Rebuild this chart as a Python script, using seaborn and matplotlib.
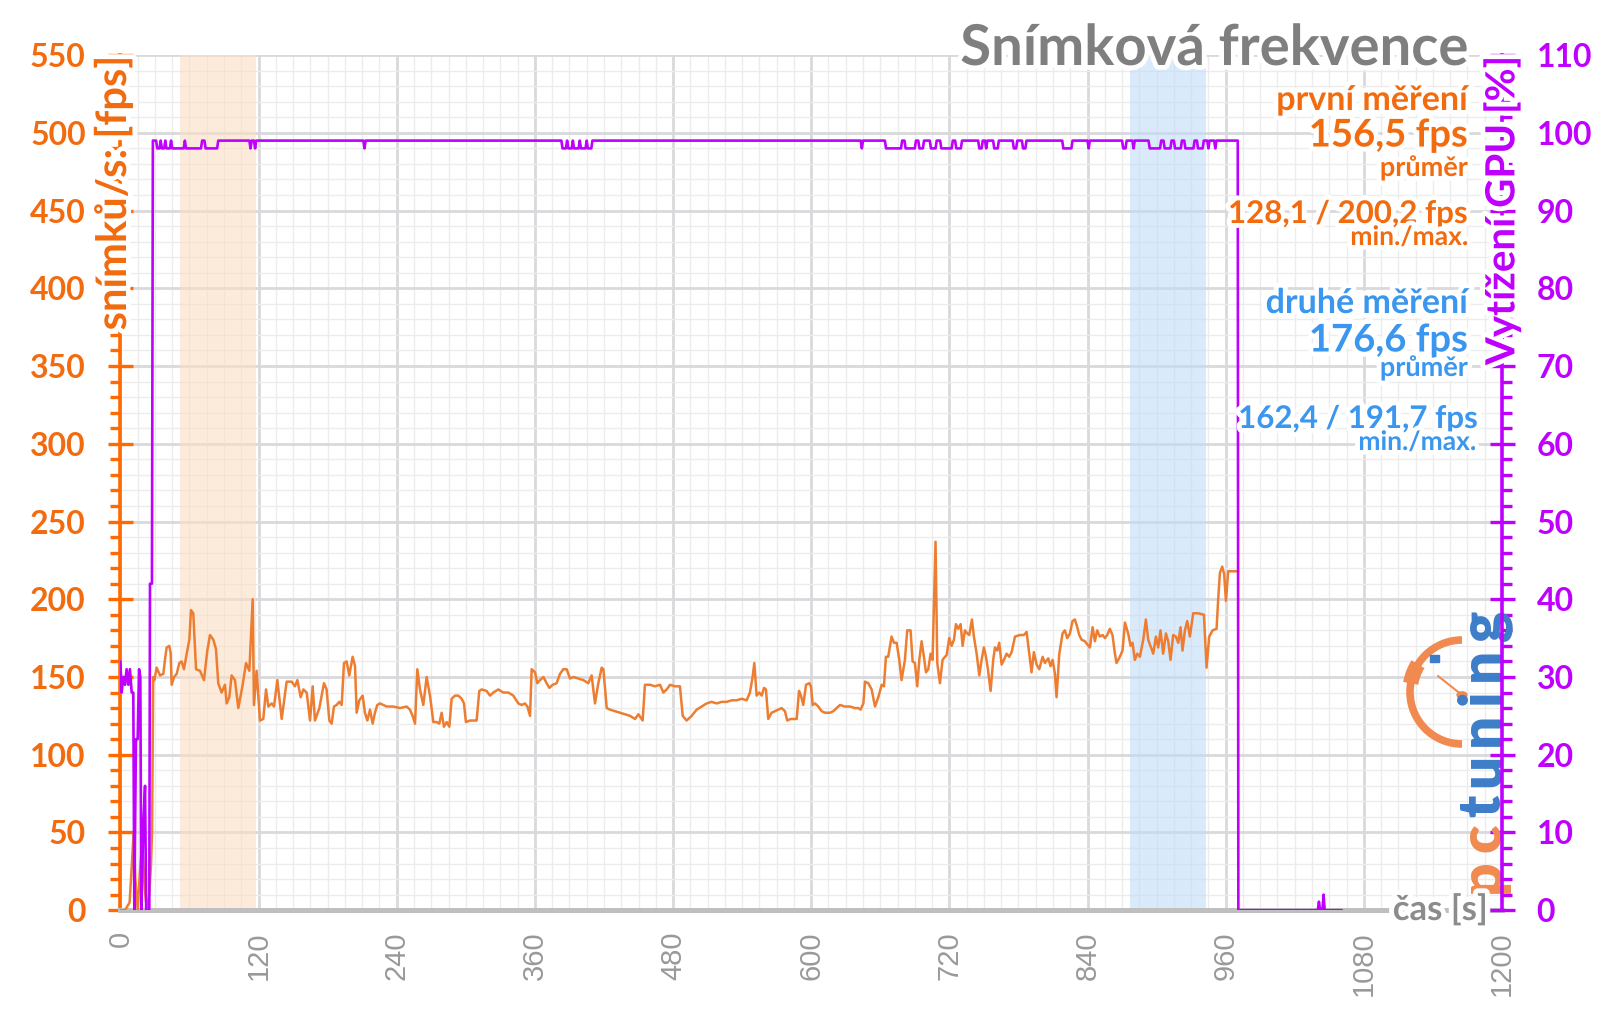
import matplotlib
matplotlib.use("Agg")
import matplotlib.pyplot as plt
import matplotlib.patheffects as pe
from matplotlib.patches import Arc, Circle, Rectangle
from matplotlib.lines import Line2D
from matplotlib.ticker import MultipleLocator
import seaborn as sns

# ---------------- data ----------------
fps_time = [
    0, 4, 8, 10, 11.5, 13, 15, 17, 19, 21,
    23, 25, 26.5, 27.5, 28.5, 29.5,
    31.5, 34.4, 37.3, 38.7, 40.2, 42.5, 43.7, 44.5, 46.6, 48.9,
    51.2, 53.2, 55.2, 57.6, 59.9, 61.3, 63.3, 65.7, 69.1, 72.6,
    75.5, 77.8, 80.7, 83.0, 85.0, 87.9, 90.8, 92.3, 94.6, 96.6,
    99.5, 102.4, 106.2, 109.1, 112.0, 114.9, 116.0, 118.3, 121.2, 124.1,
    126.5, 128.5, 131.4, 133.4, 136.3, 140.1, 144.4, 148.8, 151.6, 153.7,
    156.6, 158.9, 161.8, 164.7, 167.0, 169.0, 172.8,
    176.8, 179.1, 181.5, 183.5, 185.5, 187.8, 190.1, 192.2, 194.2, 196.5,
    198.8, 201.7, 203.8, 205.2, 207.5, 210.4, 212.4, 214.5, 216.8, 219.1,
    221.1, 223.1, 225.5, 231.3, 237.0, 242.8, 248.6, 251.5, 253.8, 255.9,
    257.9, 260.2, 263.1, 266.0, 268.9, 271.8, 274.7, 277.0, 279.0, 281.0,
    283.4, 285.7, 287.7, 290.6, 293.5, 296.4, 298.4, 300.1, 303.6, 309.4,
    311.7, 313.8, 318.1, 321.0, 323.9, 328.2, 332.6, 336.9, 341.3,
    345.6, 348.5, 351.4, 353.5, 355.8, 357.2, 360.1, 362.1, 364.5, 367.4,
    370.2, 372.6, 375.5, 378.9, 381.8, 384.7, 387.6, 390.5, 393.4, 397.7,
    402.1, 406.4, 409.3, 412.2, 415.1, 418.0, 419.5, 422.4, 425.3, 429.6,
    433.9, 438.3, 442.6, 447.0, 449.9, 453.6, 455.6, 460.0, 464.3, 468.7,
    471.6, 474.5, 477.4, 481.7, 486.0, 488.4, 491.8, 496.2, 500.5, 504.9,
    509.2, 513.5, 517.9, 522.2, 526.6, 530.9, 535.2, 539.6, 543.9, 546.8,
    549.1, 550.6, 552.6, 554.9, 557.0, 559.0, 560.7, 562.7, 565.6, 568.5,
    571.4, 574.3, 577.2, 579.2, 582.1, 585.0, 587.4, 589.4, 591.1, 593.1,
    595.5, 598.4, 599.8, 601.3, 603.3, 606.2, 609.1, 612.0, 616.3, 619.2,
    622.1, 625.0, 629.3, 633.7, 638.0, 640.9, 642.9, 645.3, 646.7, 649.6,
    652.5, 655.4, 658.3, 661.2, 663.2,
    664.9, 666.9, 669.8, 671.9, 674.2, 676.5, 678.5, 681.4, 683.4, 686.3,
    688.1, 690.1, 692.1, 693.9, 695.9, 697.9, 699.7, 701.7, 703.7, 705.4,
    708.0, 709.5, 711.8, 714.1, 716.2, 717.6, 719.9, 721.9, 724.0, 725.7,
    727.7, 729.8, 731.5, 733.5, 735.6, 737.3, 739.6, 741.3, 743.7, 746.0,
    748.0, 750.0, 751.8, 753.5, 755.8, 758.1, 759.6, 761.6, 763.3, 765.4,
    767.4, 769.7, 772.0, 774.1, 777.0, 781.3, 784.8, 787.1, 789.4, 791.4,
    793.4, 795.8, 798.1, 801.0, 803.0, 805.9, 807.9, 809.7, 811.7, 813.1,
    815.5,
    818.3, 820.3, 822.4, 824.7, 827.0, 829.0, 831.1, 832.8, 834.8, 837.7,
    839.7, 842.1, 844.4, 846.4, 848.4, 850.7, 853.1, 855.1, 857.1, 859.4,
    861.7, 863.8, 865.2, 868.1, 870.4, 872.5, 875.3, 877.4, 879.1, 881.1,
    883.2, 885.5, 888.4, 890.7, 892.7, 894.7, 897.1, 899.4, 901.4, 903.4,
    905.7, 908.1, 910.1, 912.1, 914.4, 916.7, 918.8, 920.8, 922.5, 924.6,
    926.6, 928.9, 931.8, 936.1, 941.1, 943.4, 945.7, 948.6, 952.1, 953.5,
    955.0, 957.0, 958.7, 960.2, 962.2, 965.1, 970.9,
]
fps_value = [
    0, 0, 5, 30, 50, 20, 0, 25, 45, 15,
    0, 10, 28, 50, 150, 148,
    156, 151, 152, 161, 169, 170, 165, 145, 150, 152,
    159, 160, 155, 165, 174, 193, 191, 155, 154, 148,
    167, 177, 174, 168, 146, 140, 145, 133, 137, 151,
    148, 130, 145, 159, 154, 200, 132, 154, 122, 123,
    142, 131, 133, 131, 148, 123, 147, 147, 144, 148,
    137, 142, 140, 122, 144, 122, 130,
    146, 142, 122, 120, 131, 132, 134, 132, 159, 160,
    151, 163, 157, 127, 135, 138, 127, 122, 129, 120,
    127, 132, 133, 131, 131, 130, 131, 129, 125, 120,
    155, 142, 132, 150, 138, 121, 121, 120, 127, 118,
    121, 118, 136, 138, 138, 136, 133, 121, 122, 122,
    141, 142, 141, 138, 140, 142, 140, 140, 138,
    133, 132, 133, 131, 125, 155, 153, 146, 148, 150,
    146, 143, 145, 146, 152, 155, 155, 149, 150, 149,
    148, 146, 151, 133, 146, 156, 155, 130, 129, 128,
    127, 126, 125, 123, 126, 122, 145, 145, 144, 145,
    140, 142, 145, 144, 144, 125, 122, 125, 129, 131,
    133, 134, 133, 134, 134, 135, 135, 136, 135, 140,
    150, 159, 138, 140, 138, 143, 142, 123, 127, 128,
    129, 130, 128, 122, 123, 123, 123, 141, 138, 132,
    145, 146, 144, 132, 133, 131, 128, 127, 127, 128,
    130, 132, 131, 131, 130, 130, 129, 133, 147, 146,
    142, 131, 137, 145, 144,
    163, 163, 176, 172, 172, 161, 148, 161, 180, 180,
    160, 159, 144, 161, 173, 163, 153, 155, 165, 161,
    237, 159, 146, 161, 163, 164, 175, 170, 174, 184,
    181, 184, 170, 180, 178, 177, 187, 176, 165, 151,
    161, 169, 163, 155, 141, 161, 169, 167, 172, 158,
    161, 165, 163, 166, 176, 177, 177, 179, 165, 153,
    166, 158, 155, 163, 159, 162, 157, 161, 152, 137,
    165,
    178, 180, 175, 178, 186, 187, 182, 177, 174, 173,
    171, 169, 182, 173, 180, 176, 177, 175, 177, 181,
    177, 165, 159, 163, 167, 185, 178, 170, 172, 161,
    165, 163, 174, 187, 174, 170, 165, 176, 169, 180,
    165, 178, 173, 161, 177, 176, 172, 182, 167, 180,
    186, 176, 191, 191, 190, 156, 176, 180, 181, 200,
    217, 221, 216, 199, 218, 218, 218,
]

gpu_time = [
    0, 1.1, 2.5, 4.0, 5.4, 6.9, 8.3, 9.8, 11.2, 12.1,
    13.5, 15.0, 16.2, 17.3, 18.2, 19.9, 21.4, 22.4, 25.1, 25.7,
    27.4, 28.2,
    31, 32, 34, 35, 36, 38, 39, 40, 43, 44,
    45, 55, 56, 57, 70, 71, 73, 74, 84, 85,
    112, 113, 114, 116, 117, 118, 211, 212, 213, 383,
    384, 387, 388, 389, 392, 393, 394, 398, 399, 400,
    404, 405, 406, 409, 410, 643, 644, 645, 664, 665,
    678, 679, 681, 682, 690, 691, 693, 694, 697, 698,
    703, 704, 708, 709, 712, 713, 722, 723, 725, 726,
    730, 731, 745, 746, 748, 749, 751, 752, 753, 758,
    759, 762, 763, 775, 776, 778, 779, 783, 784, 786,
    787, 818, 819, 826, 827, 840, 841, 842, 870, 871,
    873, 874, 879, 880, 881, 893, 894, 903, 904, 906,
    907, 912, 913, 915, 916, 921, 922, 924, 925, 932,
    933, 935, 936, 940, 941, 944, 945, 946, 950, 951,
    952, 970.5, 971, 1040, 1041, 1042, 1044, 1045, 1046, 1061,
]
gpu_value = [
    32, 28, 30, 29, 31, 29, 31, 28, 28, 0,
    22, 22, 31, 30, 0, 11, 16, 0, 0, 42,
    42, 99,
    99, 98, 98, 99, 98, 98, 99, 98, 98, 99,
    98, 98, 99, 98, 98, 99, 99, 98, 98, 99,
    99, 98, 99, 99, 98, 99, 99, 98, 99, 99,
    98, 98, 99, 98, 98, 99, 98, 98, 99, 98,
    98, 99, 98, 98, 99, 99, 98, 99, 99, 98,
    98, 99, 99, 98, 98, 99, 99, 98, 98, 99,
    99, 98, 98, 99, 99, 98, 98, 99, 99, 98,
    98, 99, 99, 98, 98, 99, 99, 98, 99, 99,
    98, 98, 99, 99, 98, 98, 99, 99, 98, 98,
    99, 99, 98, 98, 99, 99, 98, 99, 99, 98,
    98, 99, 99, 98, 99, 99, 98, 98, 99, 99,
    98, 98, 99, 99, 98, 98, 99, 99, 98, 98,
    99, 99, 98, 98, 99, 99, 98, 99, 99, 98,
    99, 99, 0, 0, 1.1, 0, 0, 2, 0, 0,
]

time_ticks = [0, 120, 240, 360, 480, 600, 720, 840, 960, 1080, 1200]
fps_ticks = [0, 50, 100, 150, 200, 250, 300, 350, 400, 450, 500, 550]
gpu_ticks = [0, 10, 20, 30, 40, 50, 60, 70, 80, 90, 100, 110]
band_first = (52, 118)
band_second = (877, 943)

title_text = "Snímková frekvence"
first_lines = ["první měření", "156,5 fps", "průměr", "128,1 / 200,2 fps", "min./max."]
second_lines = ["druhé měření", "176,6 fps", "průměr", "162,4 / 191,7 fps", "min./max."]
ylabel_left = "snímků/s: [fps]"
ylabel_right = "Vytížení GPU [%]"
xlabel_text = "čas [s]"

# ---------------- style ----------------
sns.set_theme(style="white")
plt.rcParams['font.family'] = ['Lato', 'DejaVu Sans']

ORANGE_TXT = '#F26B0F'
ORANGE_AX = '#FF6A00'
ORANGE_LINE = '#ED7D31'
PURPLE = '#BF00FF'
BLUE_TXT = '#3A96EE'
GRAY_TITLE = '#7F7F7F'
GRID_MAJ = '#D9D9DD'
GRID_MIN = '#ECECEC'

W, H = 1600, 1009
fig = plt.figure(figsize=(16, 10.09), dpi=100)
fig.patch.set_facecolor('white')

x0, x1 = 120.4, 1502.0
y0, y1 = 910.2, 55.1
ax = fig.add_axes([x0 / W, 1 - y0 / H, (x1 - x0) / W, (y0 - y1) / H])
ax.set_facecolor('white')

ax.set_xlim(0, 1200)
ax.set_ylim(0, 550)
ax.xaxis.set_minor_locator(MultipleLocator(15))
ax.yaxis.set_minor_locator(MultipleLocator(10))
ax.grid(which='minor', color=GRID_MIN, lw=1.0)
ax.grid(which='major', color=GRID_MAJ, lw=2.0)
ax.set_axisbelow(True)

ax.axvspan(*band_first, color='#FBDEC3', alpha=0.6, lw=0, zorder=1.5)
ax.axvspan(*band_second, color='#C1DCF9', alpha=0.6, lw=0, zorder=1.5)

sns.lineplot(x=fps_time, y=fps_value, ax=ax, color=ORANGE_LINE, lw=1.8,
             estimator=None, sort=False, zorder=3)

ax2 = ax.twinx()
sns.lineplot(x=gpu_time, y=gpu_value, ax=ax2, color=PURPLE, lw=1.9,
             estimator=None, sort=False, zorder=3)
ax2.set_ylim(0, 110)
ax2.set_xlim(0, 1200)
ax.set_xlim(0, 1200)
ax.set_ylim(0, 550)
ax.set_xlabel('')
ax.set_ylabel('')
ax2.set_ylabel('')
ax2.set_xlabel('')

# spines
ax.spines['top'].set_visible(False)
ax.spines['right'].set_visible(False)
ax.spines['left'].set_color(ORANGE_AX)
ax.spines['left'].set_linewidth(2.6)
ax.spines['bottom'].set_color('#BFBFBF')
ax.spines['bottom'].set_linewidth(3.6)
for s in ['top', 'left', 'bottom']:
    ax2.spines[s].set_visible(False)
ax2.spines['right'].set_color(PURPLE)
ax2.spines['right'].set_linewidth(2.6)

# ticks
ax.set_yticks(fps_ticks, labels=[str(v) for v in fps_ticks],
              fontsize=23, fontweight='bold', color=ORANGE_TXT)
ax.tick_params(axis='y', which='major', direction='inout', length=18, width=2.4,
               color=ORANGE_AX, pad=16)
ax.tick_params(axis='y', which='minor', direction='out', length=7, width=2.4,
               color=ORANGE_AX)
ax.set_xticks(time_ticks, labels=[str(v) for v in time_ticks],
              fontsize=21, color='#999999', rotation=90,
              fontfamily='Liberation Sans')
ax.tick_params(axis='x', which='major', direction='out', length=6, width=3,
               color='#BFBFBF', pad=9)
ax.tick_params(axis='x', which='minor', length=0)

ax2.yaxis.set_minor_locator(MultipleLocator(2))
ax2.set_yticks(gpu_ticks, labels=[str(v) for v in gpu_ticks],
               fontsize=23, fontweight='bold', color=PURPLE)
ax2.tick_params(axis='y', which='major', direction='inout', length=18, width=2.4,
                color=PURPLE, pad=16)
ax2.tick_params(axis='y', which='minor', direction='out', length=7, width=2.4,
                color=PURPLE)

stroke = [pe.withStroke(linewidth=7, foreground='white')]


def ftxt(x, y, s, **kw):
    return fig.text(x / W, 1 - y / H, s, **kw)


# title and annotations
ftxt(1468, 65, title_text, ha='right', va='baseline', fontsize=40.5,
     fontweight='bold', color=GRAY_TITLE, path_effects=stroke)

first_pos = [(1468, 110, 24.5), (1468, 146.5, 27.5), (1468, 176, 19.5),
             (1468, 223, 22.5), (1468, 245, 19)]
for s, (x, y, fs) in zip(first_lines, first_pos):
    ftxt(x, y, s, ha='right', va='baseline', fontsize=fs, fontweight='bold',
         color=ORANGE_TXT, path_effects=stroke)

second_pos = [(1468, 313, 24.5), (1468, 351.5, 27.5), (1468, 376, 19.5),
              (1478, 428, 22.5), (1476, 450, 19)]
for s, (x, y, fs) in zip(second_lines, second_pos):
    ftxt(x, y, s, ha='right', va='baseline', fontsize=fs, fontweight='bold',
         color=BLUE_TXT, path_effects=stroke)

# axis labels
ftxt(113, 56, ylabel_left, rotation=90, ha='center', va='top', fontsize=30,
     fontweight='bold', color=ORANGE_TXT, path_effects=stroke)
ftxt(1502, 56, ylabel_right, rotation=90, ha='center', va='top', fontsize=29,
     fontweight='bold', color=PURPLE, path_effects=stroke)
ftxt(1488, 920, xlabel_text, ha='right', va='baseline', fontsize=25,
     fontweight='bold', color='#8C8C8C', path_effects=stroke)

# pctuning logo (drawn under the right spine)
logo_orange = '#F08A50'
logo_blue = '#3D7DC8'
logo_letters = [('p', 876, logo_orange), ('c', 837.5, logo_orange),
                ('t', 805.5, logo_blue), ('u', 770.5, logo_blue),
                ('n', 729.5, logo_blue), ('i', 697, logo_blue),
                ('n', 664.5, logo_blue), ('g', 625, logo_blue)]
for ch, yc, col in logo_letters:
    ax2.text(1500 / W, 1 - yc / H, ch, transform=fig.transFigure, rotation=90,
             rotation_mode='anchor', ha='center', va='baseline', fontsize=42,
             fontweight='heavy', color=col, zorder=2.4, clip_on=False)
cx, cy, r = 1462, 692, 52
ax2.add_patch(Arc((cx / W, 1 - cy / H), 2 * r / W, 2 * r / H, theta1=90, theta2=270,
                  transform=fig.transFigure, color=logo_orange, lw=5.5,
                  zorder=2.3, clip_on=False))
ax2.add_patch(Arc((cx / W, 1 - cy / H), 2 * r / W, 2 * r / H, theta1=135, theta2=165,
                  transform=fig.transFigure, color=logo_orange, lw=11,
                  zorder=2.3, clip_on=False))
ax2.add_line(Line2D([cx / W, 1438 / W], [1 - (cy + 3) / H, 1 - 676 / H],
                    transform=fig.transFigure, color=logo_orange, lw=1.5,
                    zorder=2.3, clip_on=False))
ax2.add_patch(Circle((cx / W, 1 - (cy + 3) / H), 5 / W, transform=fig.transFigure,
                     color=logo_orange, zorder=2.3, clip_on=False))
ax2.add_patch(Rectangle((1430 / W, 1 - 662 / H), 9 / W, 7 / H,
                        transform=fig.transFigure, color=logo_blue,
                        zorder=2.3, clip_on=False))

fig.savefig('out.png', dpi=100, facecolor='white')
